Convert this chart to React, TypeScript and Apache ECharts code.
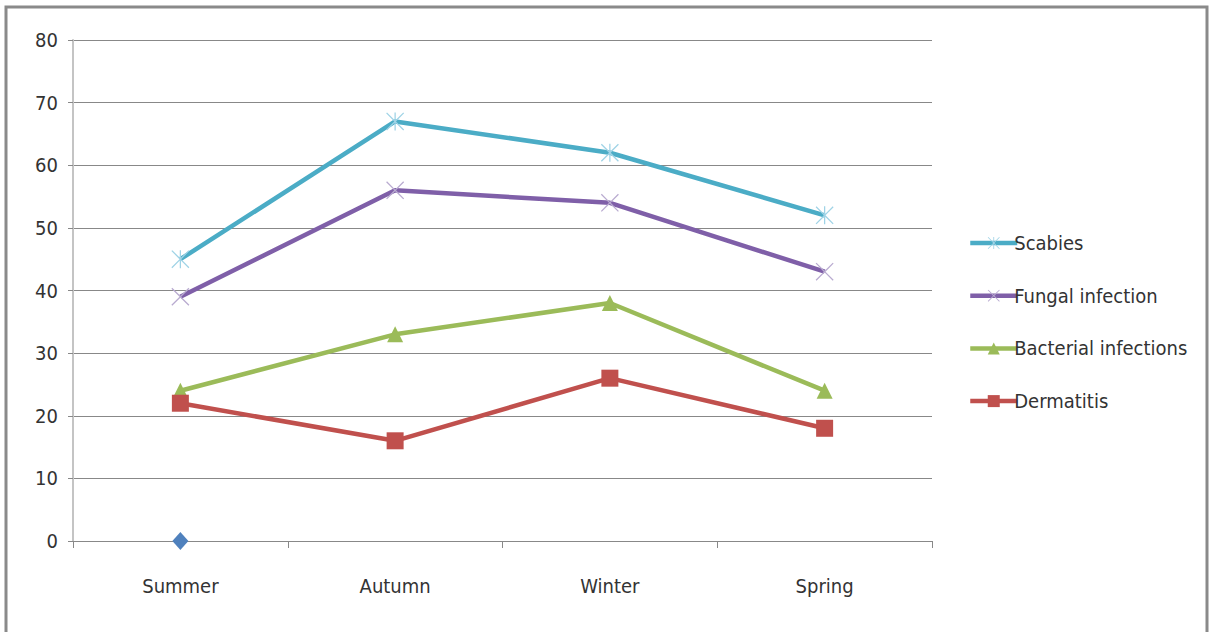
import React, { useEffect, useRef } from "react";
import * as echarts from "echarts";

const categories = ["Summer", "Autumn", "Winter", "Spring"];
const scabies = [45, 67, 62, 52];
const fungal = [39, 56, 54, 43];
const bacterial = [24, 33, 38, 24];
const dermatitis = [22, 16, 26, 18];
const baseline = [0, null, null, null];
const seriesNames = ["Scabies", "Fungal infection", "Bacterial infections", "Dermatitis"];

const FONT = "'Liberation Sans Narrow', 'DejaVu Sans Condensed', 'Open Sans', sans-serif";

const X_PATH =
  "path://M1,0 L10,9 L19,0 L20,1 L11,10 L20,19 L19,20 L10,11 L1,20 L0,19 L9,10 L0,1 Z";
const AST_PATH =
  "path://M1,0 L10,9 L19,0 L20,1 L11,10 L20,19 L19,20 L10,11 L1,20 L0,19 L9,10 L0,1 Z M9.3,0 L10.7,0 L10.7,20 L9.3,20 Z";

export default function App() {
  const ref = useRef<HTMLDivElement>(null);
  useEffect(() => {
    if (!ref.current) return;
    const chart = echarts.init(ref.current, undefined, { renderer: "svg" });
    const lineSeries = (name: string, data: number[], color: string, symbol: string, size: number, symColor: string) => ({
      name,
      type: "line",
      data,
      symbol,
      symbolSize: size,
      showSymbol: true,
      lineStyle: { color, width: 4.5 },
      itemStyle: { color: symColor, borderWidth: 0 },
      emphasis: { disabled: true },
      z: 3,
    });
    chart.setOption({
      animation: false,
      backgroundColor: "#ffffff",
      textStyle: { fontFamily: FONT },
      graphic: [
        {
          type: "rect",
          shape: { x: 6, y: 7, width: 1201, height: 650 },
          style: { fill: "none", stroke: "#8a8a8a", lineWidth: 3 },
          silent: true,
        },
      ],
      grid: { left: 73, right: 278, top: 40, bottom: 91 },
      legend: {
        orient: "vertical",
        left: 963,
        top: 227,
        itemWidth: 47,
        itemHeight: 15,
        itemGap: 30.7,
        data: seriesNames,
        lineStyle: { width: 4.5 },
        textStyle: { fontFamily: FONT, fontSize: 20, color: "#333", lineHeight: 22, padding: [0, 0, 0, -8] },
      },
      xAxis: {
        type: "category",
        data: categories,
        boundaryGap: true,
        axisLine: { lineStyle: { color: "#888", width: 1 } },
        axisTick: { show: true, length: 7, lineStyle: { color: "#888" } },
        axisLabel: { fontFamily: FONT, fontSize: 20, color: "#333", margin: 35 },
        splitLine: { show: false },
      },
      yAxis: {
        type: "value",
        min: 0,
        max: 80,
        interval: 10,
        axisLine: { show: true, lineStyle: { color: "#c4c4c4", width: 2 } },
        axisTick: { show: true, length: 5, lineStyle: { color: "#888" } },
        axisLabel: { fontFamily: FONT, fontSize: 20, color: "#333", margin: 15 },
        splitLine: { show: true, lineStyle: { color: "#888", width: 1 } },
      },
      series: [
        lineSeries(seriesNames[0], scabies, "#4BACC6", AST_PATH, 18, "#9fd3e6"),
        lineSeries(seriesNames[1], fungal, "#7F5FA8", X_PATH, 18, "#b9abd0"),
        lineSeries(seriesNames[2], bacterial, "#9BBB59", "triangle", 16, "#9BBB59"),
        lineSeries(seriesNames[3], dermatitis, "#C0504D", "rect", 17, "#C0504D"),
        {
          name: "Series0",
          type: "line",
          data: baseline,
          symbol: "diamond",
          symbolSize: [16, 18],
          lineStyle: { width: 0 },
          itemStyle: { color: "#4F81BD" },
          z: 4,
        },
      ],
    });
    return () => chart.dispose();
  }, []);
  return (
    <div
      ref={ref}
      style={{ position: "fixed", left: 0, top: 0, width: 1210, height: 632 }}
    />
  );
}
